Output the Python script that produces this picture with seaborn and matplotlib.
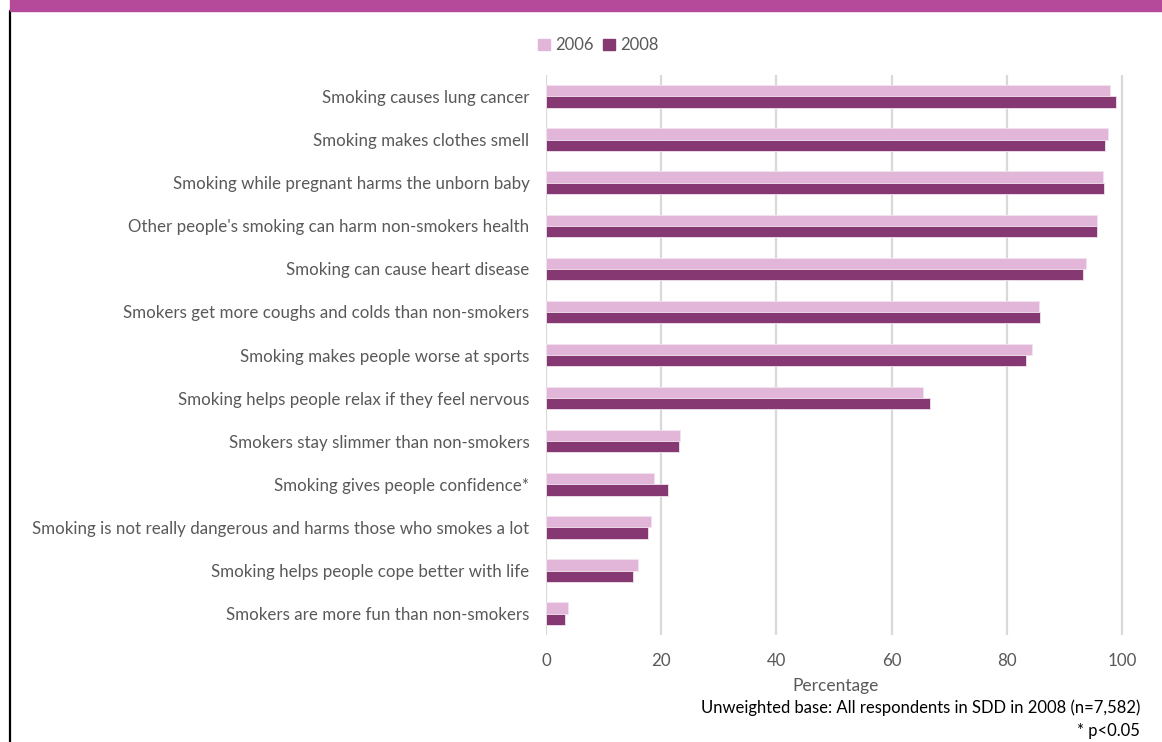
import matplotlib
matplotlib.use("Agg")
import matplotlib.pyplot as plt
import matplotlib.patches as mpatches
from matplotlib.lines import Line2D
import pandas as pd
import seaborn as sns

statements = [
    "Smoking causes lung cancer",
    "Smoking makes clothes smell",
    "Smoking while pregnant harms the unborn baby",
    "Other people's smoking can harm non-smokers health",
    "Smoking can cause heart disease",
    "Smokers get more coughs and colds than non-smokers",
    "Smoking makes people worse at sports",
    "Smoking helps people relax if they feel nervous",
    "Smokers stay slimmer than non-smokers",
    "Smoking gives people confidence*",
    "Smoking is not really dangerous and harms those who smokes a lot",
    "Smoking helps people cope better with life",
    "Smokers are more fun than non-smokers",
]
pct_2006 = [98.0, 97.6, 96.7, 95.6, 93.7, 85.6, 84.3, 65.4, 23.3, 18.7, 18.2, 16.0, 3.8]
pct_2008 = [99.0, 97.0, 96.8, 95.6, 93.3, 85.8, 83.3, 66.7, 23.1, 21.2, 17.7, 15.0, 3.3]
years = ["2006", "2008"]
x_ticks = [0, 20, 40, 60, 80, 100]

df = pd.DataFrame({
    "statement": statements * 2,
    "year": [years[0]] * len(statements) + [years[1]] * len(statements),
    "pct": pct_2006 + pct_2008,
})

sns.set_theme(style="white")
plt.rcParams["font.family"] = ["Lato", "DejaVu Sans"]

text_grey = "#595959"
palette = {"2006": "#E2B6D8", "2008": "#863873"}

fig = plt.figure(figsize=(11.62, 7.42), dpi=100)
ax = fig.add_axes([0.470, 0.144, 0.498, 0.755])

sns.barplot(data=df, y="statement", x="pct", hue="year", order=statements,
            hue_order=years, palette=palette, saturation=1, width=0.52,
            orient="h", edgecolor="#F3E3EF", linewidth=0.6, legend=False,
            ax=ax)

ax.set_xlim(0, 100.5)
ax.set_ylim(len(statements) - 0.5, -0.5)
ax.set_xticks(x_ticks)
ax.set_xticklabels([str(t) for t in x_ticks])
ax.grid(axis="x", color="#D9D9D9", linewidth=1.6)
ax.set_axisbelow(True)
for s in ax.spines.values():
    s.set_visible(False)
ax.tick_params(axis="both", length=0, labelcolor=text_grey, labelsize=12.2)
ax.tick_params(axis="x", pad=13)
ax.tick_params(axis="y", pad=12)
ax.set_ylabel("")
ax.set_xlabel("Percentage", color=text_grey, fontsize=12.5, labelpad=6)

handles = [mpatches.Patch(color=palette[y], label=y) for y in years]
fig.legend(handles=handles, loc="center", bbox_to_anchor=(0.515, 0.939),
           ncol=2, frameon=False, fontsize=12, handlelength=0.7,
           handleheight=0.7, handletextpad=0.3, columnspacing=0.6,
           labelcolor=text_grey)

# header band and left frame line
fig.patches.append(mpatches.Rectangle((10 / 1162, 1 - 11 / 742), 1, 11 / 742,
                                      transform=fig.transFigure,
                                      color="#B5499A", zorder=5))
fig.lines.append(Line2D([10 / 1162, 10 / 1162], [0, 1 - 11 / 742],
                        transform=fig.transFigure, color="black",
                        linewidth=1.6))

fig.text(1140 / 1162, 1 - 708 / 742,
         "Unweighted base: All respondents in SDD in 2008 (n=7,582)",
         ha="right", va="center", fontsize=12.0, color="black")
fig.text(1140 / 1162, 1 - 731 / 742, "* p<0.05",
         ha="right", va="center", fontsize=12.0, color="black")

fig.savefig("out.png", dpi=100)
